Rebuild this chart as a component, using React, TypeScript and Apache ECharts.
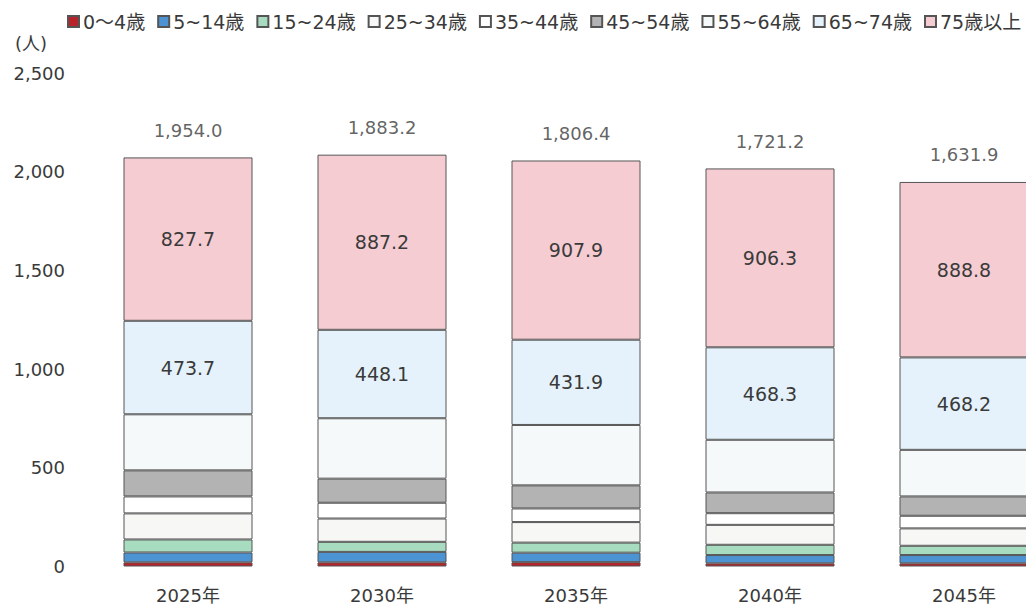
import React, { useEffect, useRef } from "react";
import * as echarts from "echarts";

const categories = ["2025年", "2030年", "2035年", "2040年", "2045年"];
const legendNames = ["0～4歳", "5~14歳", "15~24歳", "25~34歳", "35~44歳", "45~54歳", "55~64歳", "65~74歳", "75歳以上"];
const age0_4 = [21, 21, 22, 16, 16];
const age5_14 = [50, 53, 48, 42, 42];
const age15_24 = [66, 51, 51, 52, 47];
const age25_34 = [132, 118, 104, 101, 88];
const age35_44 = [86, 80, 69, 59, 64];
const age45_54 = [132, 122, 117, 105, 98];
const age55_64 = [284, 306, 306, 267, 236];
const age65_74 = [473.7, 448.1, 431.9, 468.3, 468.2];
const age75plus = [827.7, 887.2, 907.9, 906.3, 888.8];
const totals = [1954.0, 1883.2, 1806.4, 1721.2, 1631.9];
const yTicks = [0, 500, 1000, 1500, 2000, 2500];

const seriesData = [age0_4, age5_14, age15_24, age25_34, age35_44, age45_54, age55_64, age65_74, age75plus];
const colors = ["#b8232b", "#4b93d2", "#a8dcc0", "#f7f8f6", "#ffffff", "#b3b3b3", "#f6f9fa", "#e5f2fb", "#f6ccd3"];
const labeled = [false, false, false, false, false, false, false, true, true];

const FONT = "'DejaVu Sans', 'Noto Sans CJK JP', sans-serif";
const TEXT = "#3a3a3a";

export default function App() {
  const ref = useRef<HTMLDivElement>(null);
  useEffect(() => {
    document.body.style.margin = "0";
    document.body.style.overflow = "hidden";
    document.documentElement.style.overflow = "hidden";
    const chart = echarts.init(ref.current!, null, { renderer: "svg" });
    const stackTops = categories.map((_, i) => seriesData.reduce((s, arr) => s + arr[i], 0));
    const fmt = (v: number) => v.toLocaleString("en-US", { minimumFractionDigits: 1, maximumFractionDigits: 1 });
    const series: any[] = seriesData.map((arr, k) => ({
      name: legendNames[k],
      type: "bar",
      stack: "pop",
      barWidth: 129,
      data: arr,
      itemStyle: { color: colors[k], borderColor: "#555555", borderWidth: 1 },
      label: labeled[k]
        ? { show: true, position: "inside", fontFamily: FONT, fontSize: 19, color: TEXT, formatter: (p: any) => fmt(p.value) }
        : { show: false },
      emphasis: { disabled: true },
    }));
    series.push({
      type: "scatter",
      data: stackTops,
      symbolSize: 0,
      silent: true,
      label: {
        show: true,
        position: "top",
        distance: 18,
        fontFamily: FONT,
        fontSize: 18,
        color: TEXT,
        formatter: (p: any) => fmt(totals[p.dataIndex]),
      },
    });
    chart.setOption({
      animation: false,
      textStyle: { fontFamily: FONT },
      legend: {
        data: legendNames.map((n) => ({ name: n, icon: "rect" })),
        left: 67,
        top: 12,
        padding: 0,
        itemWidth: 11,
        itemHeight: 11,
        itemGap: 12,
        textStyle: { fontFamily: FONT, fontSize: 19, color: TEXT, padding: [0, 0, 0, -1] },
        selectedMode: false,
      },
      graphic: [
        { type: "text", left: 15, top: 34, style: { text: "(人)", font: `18px ${FONT}`, fill: TEXT } },
      ],
      grid: { left: 91, right: 0, top: 73, bottom: 41.5 },
      xAxis: {
        type: "category",
        data: categories,
        axisLine: { show: false },
        axisTick: { show: false },
        axisLabel: { fontFamily: FONT, fontSize: 18, color: TEXT, margin: 20 },
      },
      yAxis: {
        type: "value",
        min: yTicks[0],
        max: yTicks[yTicks.length - 1],
        interval: 500,
        splitLine: { show: false },
        axisLine: { show: false },
        axisTick: { show: false },
        axisLabel: {
          fontFamily: FONT,
          fontSize: 18,
          color: TEXT,
          margin: 26,
          formatter: (v: number) => v.toLocaleString("en-US"),
        },
      },
      series,
    });
    return () => chart.dispose();
  }, []);
  return <div ref={ref} style={{ width: 1061, height: 608 }} />;
}
